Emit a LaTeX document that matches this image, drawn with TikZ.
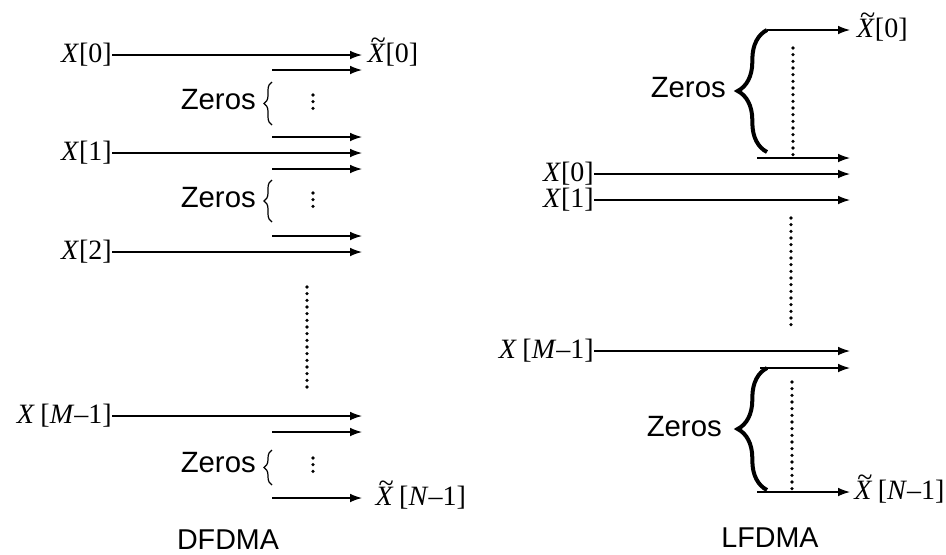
\documentclass[tikz,border=0pt]{standalone}
\usepackage{fontspec}
\setmainfont{Liberation Serif}
\setsansfont{Liberation Sans}
\usetikzlibrary{arrows.meta, positioning, decorations.pathreplacing}

% X with a tilde on top
\newcommand{\tildeX}{\ooalign{\textit{X}\cr\hidewidth\kern0.12em\raisebox{0.48em}{\textasciitilde}\hidewidth\cr}}

\begin{document}
\begin{tikzpicture}[x=0.75pt, y=-0.75pt,
        arr/.style = {-{Latex[length=9pt, width=6.5pt]}, line width=0.9pt},
        inlbl/.style = {anchor=east, inner sep=0pt, font=\fontsize{21}{23}\selectfont},
        outlbl/.style = {anchor=west, inner sep=0pt, font=\fontsize{21}{23}\selectfont},
        zlbl/.style = {anchor=east, inner sep=0pt, font=\sffamily\fontsize{22}{24}\selectfont},
        title/.style = {font=\sffamily\fontsize{21.5}{24}\selectfont},
        smallbr/.style = {decorate, decoration={brace, amplitude=6pt}, line width=0.9pt},
        bigbr/.style = {decorate, decoration={brace, amplitude=22pt}, line width=3pt},
        dotline/.style = {line width=2.7pt, line cap=round, dash pattern=on 0pt off 5pt}]
    \useasboundingbox (0,0) rectangle (946,554);

    % DFDMA
    \node[inlbl] (a0) at (112,55) {\textit{X}[0]};
    \node[inlbl] (a1) at (112,153) {\textit{X}[1]};
    \node[inlbl] (a2) at (112,252) {\textit{X}[2]};
    \node[inlbl] (aM) at (112,416) {\textit{X}\kern0.2em[\textit{M}–1]};
    \coordinate (e0) at (362,55);
    \coordinate (e1) at (362,153);
    \coordinate (e2) at (362,252);
    \coordinate (eM) at (362,416);
    \draw[arr] (a0) -- (e0);
    \draw[arr] (a1) -- (e1);
    \draw[arr] (a2) -- (e2);
    \draw[arr] (aM) -- (eM);
    \foreach \y [count=\i] in {70,137,169,236,432,498} {
        \coordinate (zs\i) at (272,\y);
        \coordinate (ze\i) at (362,\y);
        \draw[arr] (zs\i) -- (ze\i);
    }
    \node[outlbl, right=4pt of e0] (b0) {\tildeX[0]};
    \node[outlbl, right=10pt of ze6] (bN) {\tildeX\kern0.2em[\textit{N}–1]};

    \draw[smallbr] (272,125) -- (272,82);
    \draw[smallbr] (272,222) -- (272,180);
    \draw[smallbr] (272,485) -- (272,450);
    \node[zlbl] (z1) at (256,100) {Zeros};
    \node[zlbl] (z2) at (256,198) {Zeros};
    \node[zlbl] (z3) at (256,463) {Zeros};
    \draw[dotline] (313,95) -- (313,109);
    \draw[dotline] (313,193) -- (313,207);
    \draw[dotline] (313,458) -- (313,472);
    \draw[dotline] (307,287) -- (307,392);
    \node[title] (dfdma) at (228,540) {DFDMA};

    % LFDMA
    \node[inlbl] (c0) at (594,174) {\textit{X}[0]};
    \node[inlbl] (c1) at (594,200) {\textit{X}[1]};
    \node[inlbl] (cM) at (594,351) {\textit{X}\kern0.2em[\textit{M}–1]};
    \coordinate (f0) at (850,174);
    \coordinate (f1) at (850,200);
    \coordinate (fM) at (850,351);
    \draw[arr] (c0) -- (f0);
    \draw[arr] (c1) -- (f1);
    \draw[arr] (cM) -- (fM);
    \coordinate (ts1) at (767,30);  \coordinate (te1) at (850,30);
    \coordinate (ts2) at (757,158); \coordinate (te2) at (850,158);
    \coordinate (ts3) at (760,368); \coordinate (te3) at (850,368);
    \coordinate (ts4) at (757,492); \coordinate (te4) at (850,492);
    \foreach \i in {1,...,4} \draw[arr] (ts\i) -- (te\i);
    \node[outlbl, right=5pt of te1] (d0) {\tildeX[0]};
    \node[outlbl, right=3pt of te4] (dN) {\tildeX\kern0.2em[\textit{N}–1]};

    \draw[bigbr] (767,152) -- (767,30);
    \draw[bigbr] (767,490) -- (767,368);
    \node[zlbl] (z4) at (726,88) {Zeros};
    \node[zlbl] (z5) at (722,427) {Zeros};
    \draw[dotline] (793,48) -- (793,155);
    \draw[dotline] (791,218) -- (791,327);
    \draw[dotline] (792,382) -- (792,490);
    \node[title] (lfdma) at (770,538) {LFDMA};
\end{tikzpicture}
\end{document}
